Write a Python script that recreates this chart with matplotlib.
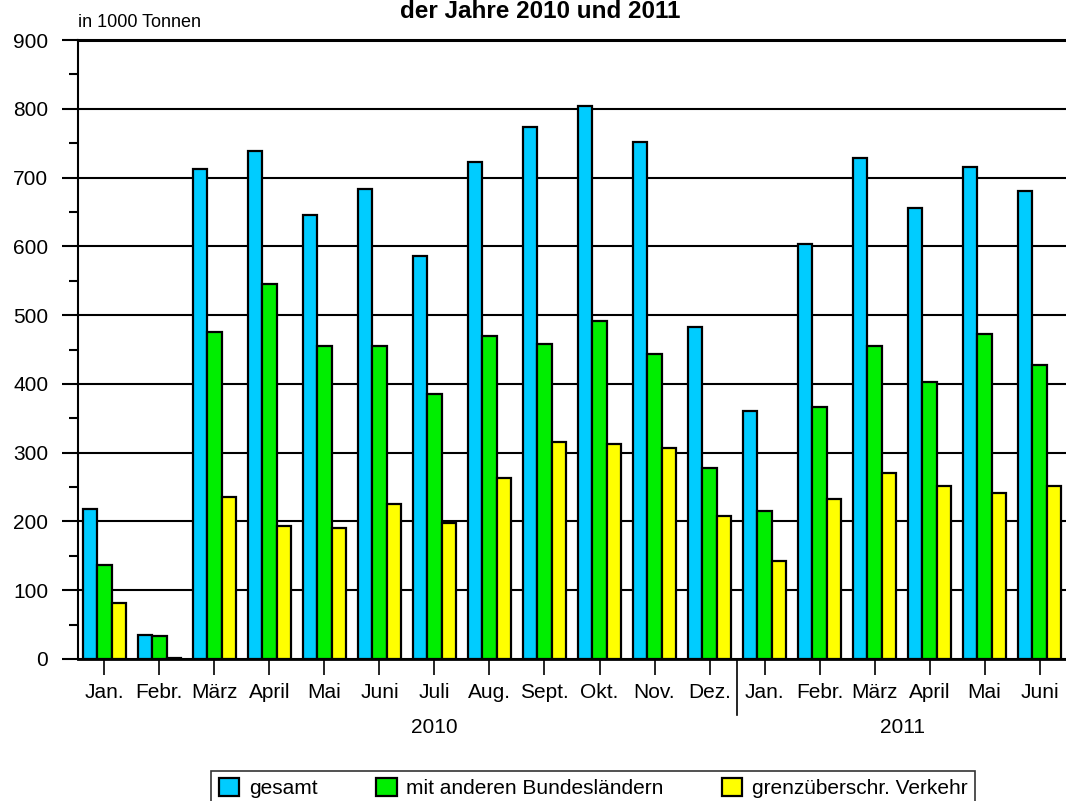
import numpy as np
import matplotlib.pyplot as plt
from matplotlib.ticker import MultipleLocator

plt.rcParams['font.family'] = ['Liberation Sans', 'DejaVu Sans']

# Monate (2010 Jan. - 2011 Juni)
monate = ['Jan.', 'Febr.', 'März', 'April', 'Mai', 'Juni', 'Juli', 'Aug.', 'Sept.',
          'Okt.', 'Nov.', 'Dez.', 'Jan.', 'Febr.', 'März', 'April', 'Mai', 'Juni']
jahre = ['2010', '2011']

# Werte in 1000 Tonnen
gesamt = [218, 35, 712, 738, 645, 684, 586, 723, 774, 804, 752, 483,
          361, 603, 729, 656, 715, 681]
bundeslaender = [137, 33, 475, 545, 455, 455, 385, 469, 458, 492, 444, 277,
                 215, 366, 455, 403, 472, 427]
grenz = [81, 2, 235, 193, 190, 226, 198, 263, 315, 313, 307, 208,
         142, 232, 271, 251, 241, 251]

fig = plt.figure(figsize=(10.66, 8.01), dpi=100)
ax = fig.add_axes([78 / 1066, 1 - 659 / 801, 1 - 78 / 1066, (659 - 40) / 801])

x = np.arange(len(monate))
w = 0.26
kw = dict(edgecolor='black', linewidth=1.6, zorder=3)
b1 = ax.bar(x - w, gesamt, w, color='#00ccff', label='gesamt', **kw)
b2 = ax.bar(x, bundeslaender, w, color='#00ee00', label='mit anderen Bundesländern', **kw)
b3 = ax.bar(x + w, grenz, w, color='#ffff00', label='grenzüberschr. Verkehr', **kw)

ax.set_xlim(-0.48, 17.48)
ax.set_ylim(0, 900)
ax.yaxis.set_major_locator(MultipleLocator(100))
ax.yaxis.set_minor_locator(MultipleLocator(50))
ax.grid(axis='y', color='black', linewidth=1.5, zorder=0)
ax.set_axisbelow(True)

ax.spines['right'].set_visible(False)
ax.spines['top'].set_linewidth(2.2)
ax.spines['bottom'].set_linewidth(2)
ax.spines['left'].set_linewidth(1.5)

ax.tick_params(axis='y', which='major', length=11.5, width=1.5, labelsize=15, pad=10)
ax.tick_params(axis='y', which='minor', length=6.5, width=1.5)
ax.set_xticks(x)
ax.set_xticklabels(monate)
ax.tick_params(axis='x', length=11.5, width=1.2, labelsize=15, pad=6)

# Jahrestrenner und Jahreslabels
ax.plot([11.5, 11.5], [0, -82], color='black', linewidth=1.2, clip_on=False)
ax.text(6.0, -100, jahre[0], ha='center', va='center', fontsize=15)
ax.text(14.5, -100, jahre[1], ha='center', va='center', fontsize=15)

fig.text(78 / 1066, 1 - 27 / 801, 'in 1000 Tonnen', ha='left', va='baseline', fontsize=13)
fig.text(540 / 1066, 1 - 18 / 801, 'der Jahre 2010 und 2011', ha='center', va='baseline',
         fontsize=17.5, fontweight='bold')

leg = fig.legend(handles=[b1, b2, b3], loc='upper center', ncol=3,
                 bbox_to_anchor=(593 / 1066, 1 - 771 / 801), fontsize=15,
                 frameon=True, fancybox=False, edgecolor='black',
                 handlelength=1.0, handleheight=0.9, handletextpad=0.45,
                 columnspacing=2.8, borderpad=0.35, borderaxespad=0)
leg.get_frame().set_linewidth(1.2)

plt.savefig('out.png', dpi=100)
